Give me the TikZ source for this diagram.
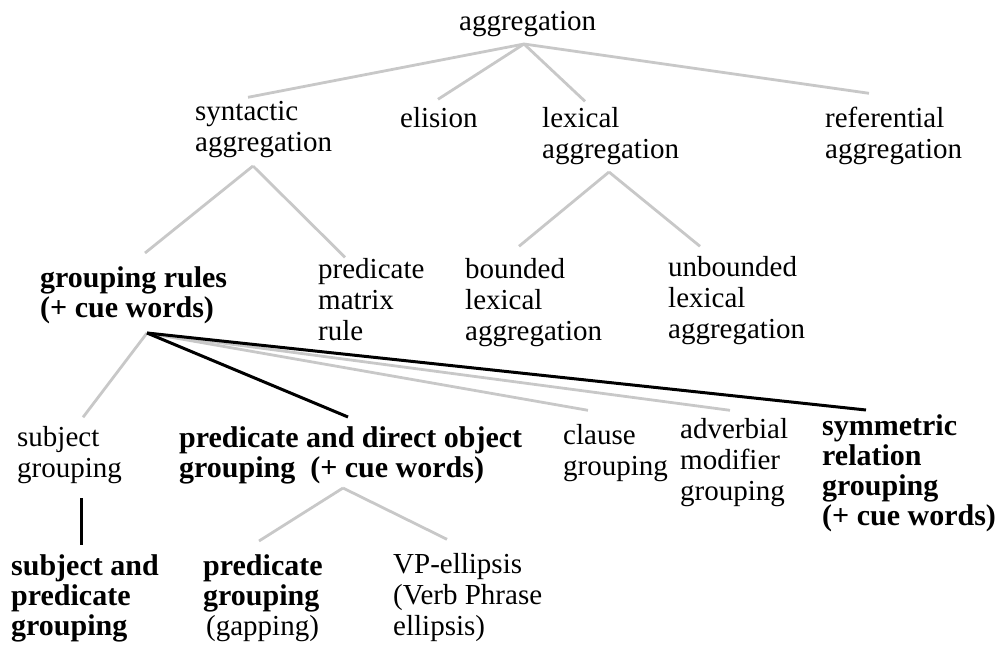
\documentclass[tikz,border=0pt]{standalone}
\usepackage{fontspec}
\setmainfont{Liberation Serif}
\definecolor{twiggrey}{RGB}{200,200,200}
\tikzset{
  term/.style={anchor=north west, inner sep=0pt, align=left,
    font=\fontsize{29}{31}\selectfont, execute at begin node=\strut},
  boldterm/.style={term, font=\fontsize{30}{30}\selectfont\bfseries},
  greyedge/.style={draw=twiggrey, line width=2.8pt},
  blackedge/.style={draw=black, line width=3pt},
}
\begin{document}
\begin{tikzpicture}[x=1pt, y=-1pt]
  \useasboundingbox (0,0) rectangle (997,646);

  % level 0 and 1
  \node[term] (aggr) at (459,8.3)   {aggregation};
  \node[term] (synt) at (195,101.3) {syntactic\\aggregation};
  \node[term] (elis) at (400,105.3) {elision};
  \node[term] (lexi) at (542,107.3) {lexical\\aggregation};
  \node[term] (refe) at (825,107.3) {referential\\aggregation};

  % level 2
  \node[boldterm] (grul) at (40,266)    {grouping rules\\(+ cue words)};
  \node[term]     (pmat) at (318,258.3) {predicate\\matrix\\rule};
  \node[term]     (blex) at (465,258.3) {bounded\\lexical\\aggregation};
  \node[term]     (ulex) at (668,256.3) {unbounded\\lexical\\aggregation};

  % level 3
  \node[term]     (subj) at (17,426.3)  {subject\\grouping};
  \node[boldterm] (pdir) at (179,426)   {predicate and direct object\\grouping\ \ (+ cue words)};
  \node[term]     (clau) at (563,424.3) {clause\\grouping};
  \node[term]     (advb) at (680,418.3) {adverbial\\modifier\\grouping};
  \node[boldterm] (symm) at (822,414)   {symmetric\\relation\\grouping\\(+ cue words)};

  % level 4
  \node[boldterm] (sapg) at (11,554)  {subject and\\predicate\\grouping};
  \node[boldterm] (pgrp) at (203,554) {predicate\\grouping\\\hspace*{3pt}\fontsize{29}{30}\selectfont\mdseries(gapping)};
  \node[term]     (vpel) at (393,553.3) {VP-ellipsis\\(Verb Phrase\\ellipsis)};

  % feet of the parents
  \coordinate (aggr-foot) at (524,44);
  \coordinate (synt-foot) at (253,166);
  \coordinate (lexi-foot) at (609,172);
  \coordinate (grul-foot) at (147,333);
  \coordinate (subj-foot) at (81,498);
  \coordinate (pdir-foot) at (343,488);

  \draw[greyedge] (aggr-foot) -- ([xshift=53pt,yshift=4pt]synt.north west);
  \draw[greyedge] (aggr-foot) -- ([xshift=38pt,yshift=6pt]elis.north west);
  \draw[greyedge] (aggr-foot) -- ([xshift=43pt,yshift=6pt]lexi.north west);
  \draw[greyedge] (aggr-foot) -- ([xshift=44pt,yshift=14pt]refe.north west);

  \draw[greyedge] (synt-foot) -- ([xshift=105pt,yshift=13pt]grul.north west);
  \draw[greyedge] (synt-foot) -- ([xshift=27pt,yshift=1pt]pmat.north west);
  \draw[greyedge] (lexi-foot) -- ([xshift=54pt,yshift=12pt]blex.north west);
  \draw[greyedge] (lexi-foot) -- ([xshift=32pt,yshift=10pt]ulex.north west);

  \draw[greyedge]  (grul-foot) -- ([xshift=66pt,yshift=9pt]subj.north west);
  \draw[greyedge]  (grul-foot) -- ([xshift=25pt,yshift=14pt]clau.north west);
  \draw[greyedge]  (grul-foot) -- ([xshift=50pt,yshift=8pt]advb.north west);
  \draw[blackedge] (grul-foot) -- ([xshift=169pt,yshift=9pt]pdir.north west);
  \draw[blackedge] (grul-foot) -- ([xshift=44pt,yshift=4pt]symm.north west);

  \draw[blackedge] (subj-foot) -- ([xshift=70pt,yshift=9pt]sapg.north west);
  \draw[greyedge]  (pdir-foot) -- ([xshift=56pt,yshift=13pt]pgrp.north west);
  \draw[greyedge]  (pdir-foot) -- ([xshift=54pt,yshift=14pt]vpel.north west);
\end{tikzpicture}
\end{document}
